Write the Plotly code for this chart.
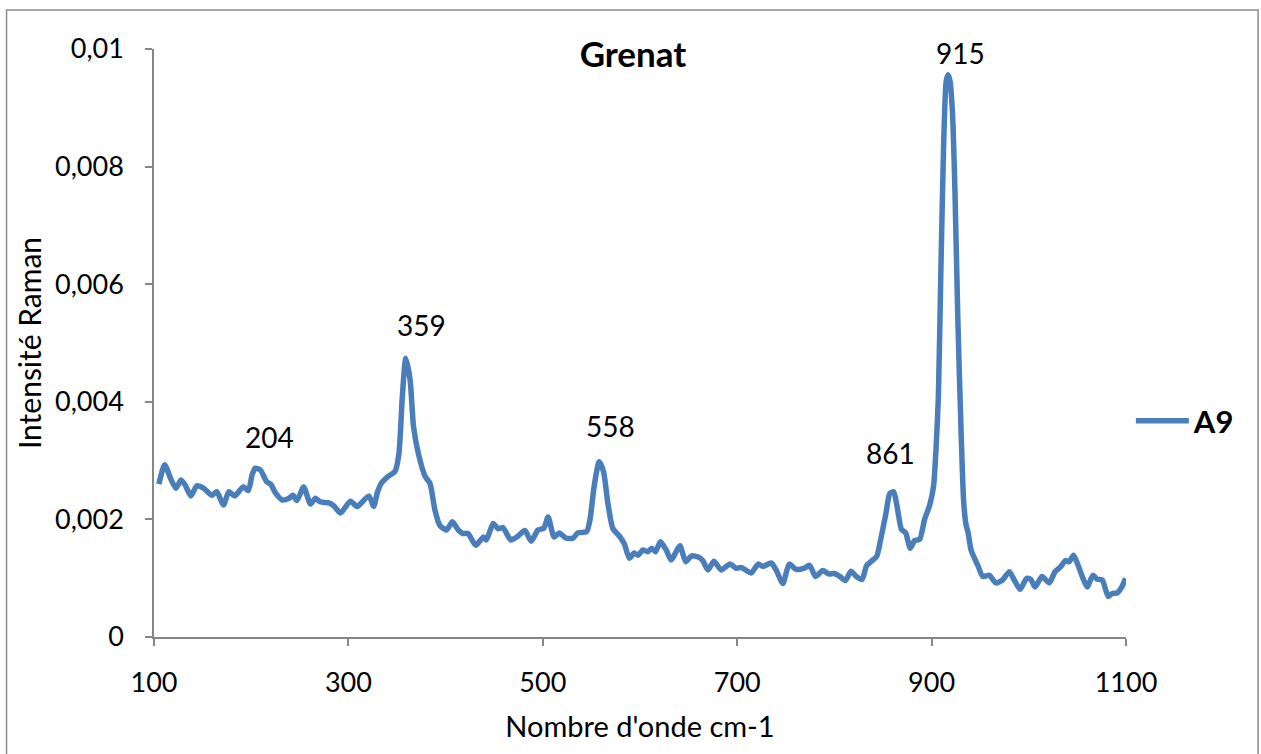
import plotly.graph_objects as go

# Raman spectrum of garnet sample A9 (wavenumber in cm-1, intensity)
wavenumber = [
    105, 111, 117, 122.6, 127.7, 132, 138, 144, 151, 159.5, 164.6, 171.5, 177, 183,
    192, 197, 201, 204, 209.5, 216, 220, 225, 232, 239, 243, 247, 254, 261, 266, 271,
    280, 285, 292, 302, 309, 321, 326, 330, 334, 340, 348, 352, 355.5, 359, 363.5,
    367, 372, 379, 384, 389, 394, 401, 407, 413, 418, 423, 431, 439, 442, 449, 454,
    459, 467, 474, 481.6, 488, 495, 501, 505.5, 511.6, 517, 524, 531, 536, 545, 548.5,
    553, 558, 562.5, 567, 572, 579, 584, 589, 594, 598, 603, 608, 612, 616, 621, 627,
    632, 641, 647, 653, 660, 664.5, 670, 676, 683.5, 692.5, 699, 704.5, 714.5, 721.5,
    726.5, 735, 740, 747, 753.5, 760.5, 769, 774.5, 780.5, 788, 794.5, 800, 805.5,
    811.5, 817, 822.5, 828.5, 833, 837.5, 843.5, 847.5, 853, 857, 861, 864.5, 869,
    873.4, 878, 882.6, 887.7, 892.8, 898, 902, 904.5, 907, 909.5, 912.5, 915, 917,
    919, 921.5, 924, 927, 930.5, 933, 935.5, 937.5, 940.6, 947.5, 952.6, 959.5, 966,
    973, 980, 985, 991, 997.8, 1002, 1006.6, 1013.5, 1021, 1027, 1033, 1037.7, 1041.5,
    1046, 1050, 1055, 1060, 1066, 1070.5, 1075.5, 1081.7, 1085.8, 1091, 1096, 1099.5,
]
intensity_e3 = [
    2.60, 2.93, 2.70, 2.53, 2.67, 2.585, 2.40, 2.57, 2.53, 2.41, 2.47, 2.245, 2.47, 2.40,
    2.556, 2.49, 2.76, 2.87, 2.84, 2.64, 2.60, 2.45, 2.33, 2.36, 2.41, 2.32, 2.55, 2.26,
    2.36, 2.30, 2.28, 2.23, 2.11, 2.31, 2.22, 2.40, 2.22, 2.47, 2.62, 2.72, 2.82, 3.12,
    4.09, 4.74, 4.37, 3.58, 3.12, 2.73, 2.61, 2.16, 1.90, 1.82, 1.96, 1.82, 1.76, 1.76,
    1.56, 1.70, 1.65, 1.93, 1.84, 1.86, 1.65, 1.71, 1.81, 1.63, 1.82, 1.85, 2.04, 1.70,
    1.77, 1.68, 1.68, 1.77, 1.79, 1.99, 2.585, 2.98, 2.81, 2.27, 1.85, 1.71, 1.58, 1.34,
    1.43, 1.39, 1.48, 1.45, 1.51, 1.45, 1.62, 1.48, 1.31, 1.55, 1.28, 1.38, 1.36, 1.30,
    1.14, 1.29, 1.14, 1.24, 1.17, 1.18, 1.09, 1.24, 1.20, 1.26, 1.14, 0.91, 1.24, 1.15,
    1.17, 1.22, 1.03, 1.13, 1.07, 1.08, 1.03, 0.96, 1.12, 1.03, 0.98, 1.21, 1.28, 1.37,
    1.65, 2.10, 2.44, 2.47, 2.22, 1.83, 1.77, 1.51, 1.64, 1.66, 2.00, 2.24, 2.56, 3.18,
    4.10, 6.19, 8.45, 9.45, 9.56, 9.45, 8.9, 7.6, 5.4, 3.40, 2.30, 1.90, 1.78, 1.48,
    1.22, 1.03, 1.05, 0.92, 0.97, 1.11, 0.97, 0.81, 1.00, 0.98, 0.85, 1.03, 0.92, 1.11,
    1.20, 1.30, 1.28, 1.39, 1.25, 1.03, 0.85, 1.05, 0.98, 0.97, 0.69, 0.74, 0.75, 0.86,
    1.00,
]
intensity = [v / 1000 for v in intensity_e3]

# Labelled band positions
peak_labels = [204, 359, 558, 861, 915]
peak_heights = [0.00287, 0.00474, 0.00298, 0.00247, 0.00956]
label_dx = [14, 16, 11, -3, 14]
label_dy = [31, 33, 36, 39, 22]

x_ticks = [100, 300, 500, 700, 900, 1100]
y_ticks = [0, 0.002, 0.004, 0.006, 0.008, 0.01]
y_tick_text = ["0", "0,002", "0,004", "0,006", "0,008", "0,01"]

LINE_COLOR = "#4A7EBB"
AXIS_COLOR = "#868686"
FONT = "Lato, Open Sans, sans-serif"

fig = go.Figure()
fig.add_trace(go.Scatter(
    x=wavenumber, y=intensity, mode="lines", name="A9",
    line=dict(color=LINE_COLOR, width=5.5, shape="spline", smoothing=0.6),
))

for xv, yv, dx, dy in zip(peak_labels, peak_heights, label_dx, label_dy):
    fig.add_annotation(
        x=xv, y=yv, text=str(xv), showarrow=False,
        xshift=dx, yshift=dy, yanchor="middle",
        font=dict(family=FONT, size=28, color="black"),
    )

# Outer chart frame
fig.add_shape(
    type="rect", xref="paper", yref="paper",
    x0=-0.1517, x1=1.1359, y0=-0.21, y1=1.0663,
    line=dict(color="#8C8C8C", width=1.5), layer="below",
)

fig.update_layout(
    width=1261, height=754,
    margin=dict(l=154, r=135, t=49, b=117),
    paper_bgcolor="white", plot_bgcolor="white",
    title=dict(
        text="<b>Grenat</b>", x=0.502, xanchor="center",
        y=0.927, yanchor="middle",
        font=dict(family=FONT, size=35, color="black"),
    ),
    showlegend=True,
    legend=dict(
        x=1.005, y=0.367, xanchor="left", yanchor="middle",
        font=dict(family=FONT, size=31, color="black", weight="bold"),
        itemwidth=53, bgcolor="rgba(0,0,0,0)",
    ),
    xaxis=dict(
        range=[100, 1100], tickvals=x_ticks, ticks="outside", ticklen=7,
        tickcolor=AXIS_COLOR, tickwidth=1.5, showline=True, linecolor=AXIS_COLOR,
        linewidth=1.5, showgrid=False, zeroline=False,
        tickfont=dict(family=FONT, size=27, color="black"),
        ticklabelstandoff=14,
        title=dict(text="Nombre d'onde cm-1", standoff=20,
                   font=dict(family=FONT, size=29, color="black")),
    ),
    yaxis=dict(
        range=[0, 0.01], tickvals=y_ticks, ticktext=y_tick_text,
        ticks="outside", ticklen=7, tickcolor=AXIS_COLOR, tickwidth=1.5,
        showline=True, linecolor=AXIS_COLOR, linewidth=1.5, showgrid=False,
        zeroline=False, tickfont=dict(family=FONT, size=27, color="black"),
        ticklabelstandoff=16,
        title=dict(text="Intensité Raman", standoff=5,
                   font=dict(family=FONT, size=30, color="black")),
    ),
)

fig.write_html("out.html")
